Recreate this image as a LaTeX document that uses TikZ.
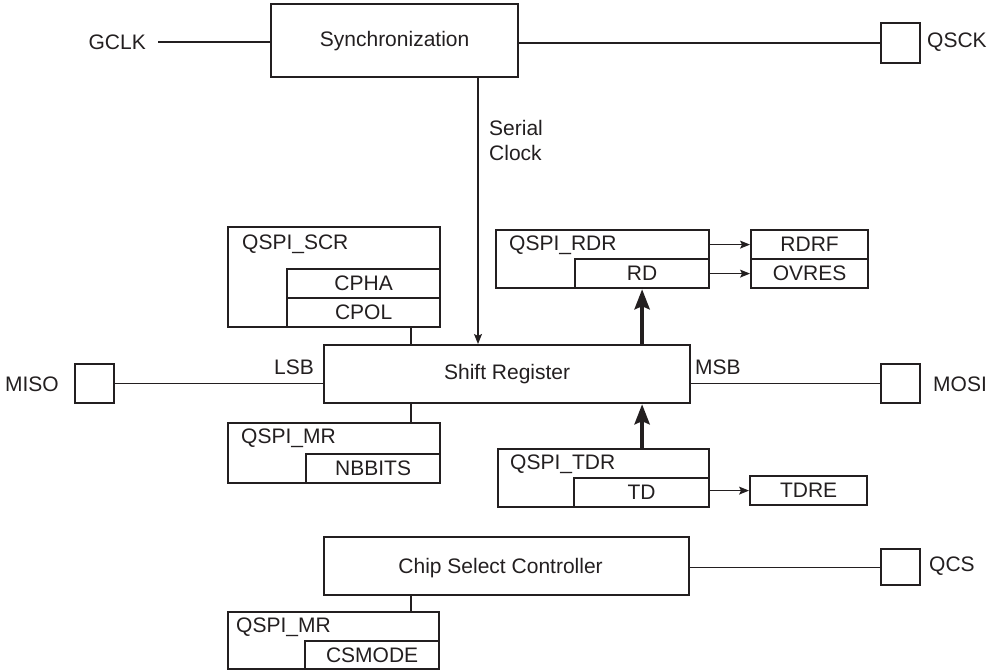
\documentclass[tikz,border=0pt]{standalone}
\usepackage{fontspec}
\setmainfont{Liberation Sans}
\usetikzlibrary{arrows.meta}
\definecolor{ink}{HTML}{231F20}
\begin{document}
\begin{tikzpicture}[x=1pt,y=-1pt,
  every node/.style={font=\fontsize{21}{25}\selectfont, text=ink},
  box/.style={draw=ink, line width=2.2pt, inner sep=0pt, anchor=north west},
  lbl/.style={inner sep=0pt},
  wire/.style={draw=ink, line width=1.2pt},
  thinarrow/.style={wire, -{Stealth[length=10pt,width=8pt,inset=2pt]}},
  busarrow/.style={draw=ink, line width=4pt, -{Stealth[length=20pt,width=15pt,inset=3pt]}}]
\useasboundingbox (0,0) rectangle (987,669);
% boxes
\node[box, minimum width=247pt, minimum height=73pt] (sync) at (270,3) {};
\node[lbl] (synct) at (sync.center) {Synchronization};
\node[box, minimum width=39pt, minimum height=40pt] (qsck) at (880,22) {};
\node[box, minimum width=366pt, minimum height=58pt] (sr) at (323,344) {};
\node[lbl] (srt) at (sr.center) {Shift Register};
\node[box, minimum width=39pt, minimum height=39pt] (miso) at (74,363) {};
\node[box, minimum width=39pt, minimum height=39pt] (mosi) at (880,363) {};
% QSPI_SCR
\node[box, minimum width=212pt, minimum height=100pt] (scr) at (227,226) {};
\node[box, minimum width=153pt, minimum height=29pt] (cpha) at (286,268) {};
\node[box, minimum width=153pt, minimum height=29pt] (cpol) at (286,297) {};
\node[lbl, anchor=west] (scrt) at (242,244) {QSPI\_SCR};
\node[lbl] (cphat) at (cpha.center) {CPHA};
\node[lbl] (cpolt) at (cpol.center) {CPOL};
% QSPI_MR (1)
\node[box, minimum width=212pt, minimum height=60pt] (mra) at (227,422) {};
\node[box, minimum width=134pt, minimum height=29pt] (nbbits) at (305,453) {};
\node[lbl, anchor=west] (mrat) at (241,438) {QSPI\_MR};
\node[lbl] (nbbitst) at (nbbits.center) {NBBITS};
% QSPI_RDR
\node[box, minimum width=213pt, minimum height=58pt] (rdr) at (495,229) {};
\node[box, minimum width=134pt, minimum height=29pt] (rd) at (574,258) {};
\node[lbl, anchor=west] (rdrt) at (509,245) {QSPI\_RDR};
\node[lbl] (rdt) at (rd.center) {RD};
\node[box, minimum width=117pt, minimum height=29pt] (rdrf) at (750,229) {};
\node[box, minimum width=117pt, minimum height=29pt] (ovres) at (750,258) {};
\node[lbl] (rdrft) at (rdrf.center) {RDRF};
\node[lbl] (ovrest) at (ovres.center) {OVRES};
% QSPI_TDR
\node[box, minimum width=211pt, minimum height=58pt] (tdr) at (497,448) {};
\node[box, minimum width=135pt, minimum height=29pt] (td) at (573,477) {};
\node[lbl, anchor=west] (tdrt) at (510,464) {QSPI\_TDR};
\node[lbl] (tdt) at (td.center) {TD};
\node[box, minimum width=117pt, minimum height=29pt] (tdre) at (749,475) {};
\node[lbl] (tdret) at (tdre.center) {TDRE};
% Chip select
\node[box, minimum width=365pt, minimum height=58pt] (csc) at (323,536) {};
\node[lbl] (csct) at ([xshift=-6pt,yshift=-2pt]csc.center) {Chip Select Controller};
\node[box, minimum width=39pt, minimum height=36pt] (qcs) at (880,548) {};
\node[box, minimum width=211pt, minimum height=57pt] (mrb) at (227,611) {};
\node[box, minimum width=134pt, minimum height=28pt] (csmode) at (304,640) {};
\node[lbl, anchor=west] (mrbt) at (236,627) {QSPI\_MR};
\node[lbl] (csmodet) at (csmode.center) {CSMODE};
% outside labels
\node[lbl, anchor=west] (qsckt) at (927,42) {QSCK};
\node[lbl, anchor=east] (gclk) at (146,42) {GCLK};
\node[lbl, anchor=east] (misot) at (59,384) {MISO};
\node[lbl, anchor=west] (mosit) at (933,384) {MOSI};
\node[lbl, anchor=west] (qcst) at (929,566) {QCS};
\node[lbl, anchor=south east] (lsb) at (314,375) {LSB};
\node[lbl, anchor=south west] (msb) at (695,375) {MSB};
\node[lbl, anchor=north west, align=left] (sclk) at (489,120) {Serial\\Clock};
% helper coordinates
\coordinate (vx) at (411,0);
\coordinate (sx) at (478,0);
% connectors
\draw[wire] ([xshift=12pt]gclk.east) -- (gclk.east -| sync.west);
\draw[wire] (sync.east |- qsck.west) -- (qsck.west);
\draw[thinarrow] (sx |- sync.south) -- (sx |- sr.north);
\draw[wire] (vx |- cpol.south) -- (vx |- sr.north);
\draw[wire] (miso.east) -- (miso.east -| sr.west);
\draw[wire] (mosi.west -| sr.east) -- (mosi.west);
\draw[wire] (vx |- sr.south) -- (vx |- mra.north);
\draw[busarrow] (rd.south |- sr.north) -- (rd.south);
\draw[busarrow] (tdr.north -| rd.south) -- (sr.south -| rd.south);
\draw[thinarrow] (rdr.east |- rdrf.west) -- (rdrf.west);
\draw[thinarrow] (rd.east |- ovres.west) -- (ovres.west);
\draw[thinarrow] (td.east |- tdre.west) -- (tdre.west);
\draw[wire] (csc.east |- qcs.west) -- (qcs.west);
\draw[wire] (vx |- csc.south) -- (vx |- mrb.north);
\end{tikzpicture}
\end{document}
